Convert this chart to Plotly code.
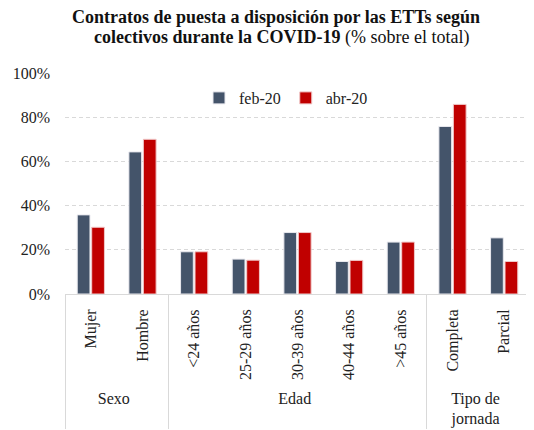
import plotly.graph_objects as go

groups = ["Sexo", "Sexo", "Edad", "Edad", "Edad", "Edad", "Edad", "Tipo de<br>jornada", "Tipo de<br>jornada"]
categories = ["Mujer", "Hombre", "<24 años", "25-29 años", "30-39 años", "40-44 años", ">45 años", "Completa", "Parcial"]
feb20 = [35.8, 64.3, 19.1, 15.8, 27.8, 14.7, 23.5, 75.8, 25.4]
abr20 = [30.2, 70.0, 19.1, 15.3, 27.8, 15.2, 23.5, 85.8, 14.7]

FONT = "'Liberation Serif', 'Times New Roman', serif"

# page body has an 8px margin: figure drawn at (8, 8)
W, H = 526, 422
L, R, T, B = 57, 4, 65, 136
pw, ph = W - L - R, H - T - B

def px_to_paper(x, y):
    return (x - 8 - L) / pw, (H - B - (y - 8)) / ph

fig = go.Figure()
fig.add_bar(x=[groups, categories], y=feb20, name="feb-20",
            marker=dict(color="#44546A", line=dict(color="#E8E8EE", width=1)))
fig.add_bar(x=[groups, categories], y=abr20, name="abr-20",
            marker=dict(color="#C00000", line=dict(color="#F0C8C8", width=1)))

x1, y1 = px_to_paper(276, 17)
x2, y2 = px_to_paper(281, 38)
lx, ly = px_to_paper(286, 98)

fig.update_layout(
    width=W, height=H,
    margin=dict(l=L, r=R, t=T, b=B),
    paper_bgcolor="white", plot_bgcolor="white",
    font=dict(family=FONT, size=16, color="#222222"),
    barmode="group", bargap=0.44, bargroupgap=0.12,
    showlegend=True,
    legend=dict(orientation="h", x=lx, xanchor="center", y=ly, yanchor="middle",
                font=dict(family=FONT, size=16), bgcolor="rgba(0,0,0,0)",
                itemwidth=30),
    annotations=[
        dict(text="<b>Contratos de puesta a disposición por las ETTs según</b>",
             x=x1, xref="paper", y=y1, yref="paper", showarrow=False,
             xanchor="center", yanchor="middle",
             font=dict(family=FONT, size=18, color="#111111")),
        dict(text="<b>colectivos durante la COVID-19</b> (% sobre el total)",
             x=x2, xref="paper", y=y2, yref="paper", showarrow=False,
             xanchor="center", yanchor="middle",
             font=dict(family=FONT, size=18, color="#111111")),
    ],
)

fig.update_yaxes(range=[0, 100], dtick=20, ticksuffix="%", showgrid=True,
                 gridcolor="#D9D9D9", griddash="4px,3px", gridwidth=1,
                 zeroline=False, showline=False, ticks="", ticklabelstandoff=14,
                 tickfont=dict(family=FONT, size=16), fixedrange=True,
                 automargin=False)
fig.update_xaxes(tickangle=-90, showline=True, linecolor="#D9D9D9", linewidth=1,
                 ticks="", showdividers=True, dividercolor="#D9D9D9", dividerwidth=1,
                 ticklabelstandoff=8, automargin=False,
                 tickfont=dict(family=FONT, size=16))

fig.write_html("out.html")
